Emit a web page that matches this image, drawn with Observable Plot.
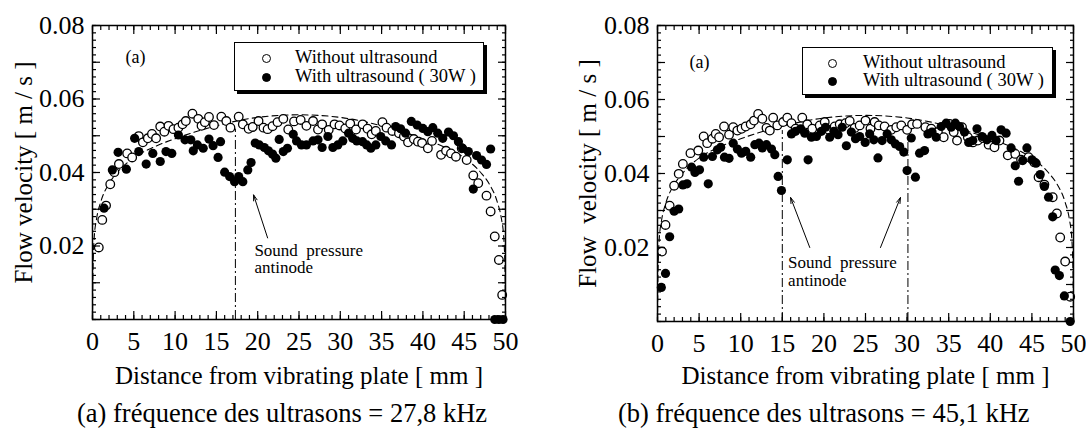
<!DOCTYPE html>
<html><head><meta charset="utf-8">
<script src="https://cdn.jsdelivr.net/npm/d3@7"></script>
<script src="https://cdn.jsdelivr.net/npm/@observablehq/plot@0.6"></script>
<style>
body{margin:0;background:#fff;}
#wrap{display:flex;width:1086px;height:435px;overflow:hidden;}
.panel{position:relative;width:543px;height:435px;flex:none;}
.panel svg text{white-space:pre;}
.caption{position:absolute;top:399px;font-family:"Liberation Serif",serif;font-size:26.5px;line-height:28px;white-space:nowrap;color:#000;}
.legend{position:absolute;border:1.5px solid #000;box-shadow:3px 3px 0 #000;background:#fff;font-family:"Liberation Serif",serif;font-size:18.5px;color:#000;box-sizing:border-box;}
.legend .row{position:absolute;white-space:pre;line-height:20px;}
.legend .sym{position:absolute;width:9px;height:9px;border-radius:50%;box-sizing:border-box;}
</style>
</head><body>
<div id="wrap"></div>
<script>
// ---------- data ----------
const xTickLabels = [0,5,10,15,20,25,30,35,40,45,50];
const yTickLabels = [0.02,0.04,0.06,0.08];
const seriesNames = ["Without ultrasound","With ultrasound ( 30W )"];

// panel (a) 27.8 kHz
const aOpenX = [0.76,1.18,1.64,2.15,2.65,3.2,4.2,4.8,5.6,6.1,6.7,7.2,7.7,8.2,8.7,9.2,9.8,10.4,10.9,11.3,12.1,12.8,13.2,13.6,14.1,14.7,15.6,16.2,16.7,17.7,18.2,18.9,19.4,20.1,20.7,21.2,21.8,22.4,23.1,23.7,24.4,25.2,25.9,26.7,27.3,27.8,28.6,29.3,29.9,30.6,31.2,31.9,32.7,33.3,33.8,34.3,35.1,35.6,36.3,37.1,37.7,38.2,38.9,39.4,39.9,40.6,41.1,42.2,42.8,43.4,44.0,44.7,45.3,46.1,46.7,47.7,48.2,48.7,49.2,49.6];
const aOpenY = [0.0196,0.0271,0.0310,0.0368,0.0401,0.0423,0.0452,0.0441,0.0499,0.0482,0.0493,0.0505,0.0493,0.0525,0.0511,0.0527,0.0518,0.0522,0.0531,0.0540,0.0560,0.0546,0.0527,0.0537,0.0551,0.0529,0.0552,0.0540,0.0522,0.0552,0.0531,0.0519,0.0524,0.0540,0.0522,0.0518,0.0526,0.0537,0.0546,0.0517,0.0539,0.0543,0.0527,0.0540,0.0517,0.0531,0.0516,0.0531,0.0528,0.0520,0.0533,0.0517,0.0531,0.0519,0.0504,0.0513,0.0537,0.0522,0.0513,0.0507,0.0498,0.0482,0.0491,0.0484,0.0480,0.0466,0.0486,0.0448,0.0459,0.0452,0.0443,0.0466,0.0434,0.0392,0.0371,0.0337,0.0294,0.0226,0.0162,0.0067];
const aFillX = [1.4,2.4,3.1,4.1,5.1,5.6,6.5,7.3,8.2,8.9,9.6,10.4,11.2,11.9,12.2,12.7,13.4,14.1,14.6,15.2,15.5,16.0,16.6,17.2,17.7,18.2,18.8,19.2,19.7,20.2,20.8,21.3,21.8,22.2,22.6,23.1,23.6,24.3,24.7,25.3,25.9,26.7,27.3,27.8,28.5,29.1,29.7,30.3,31.0,31.5,32.0,32.7,33.2,33.7,34.3,34.9,35.5,36.2,36.7,37.3,37.9,38.6,39.3,40.0,40.6,41.2,41.8,42.4,43.1,43.7,44.3,44.8,45.5,46.1,46.5,47.1,47.7,48.2,48.7,49.2,49.7];
const aFillY = [0.0303,0.0407,0.0455,0.0409,0.0493,0.0457,0.0423,0.0452,0.0430,0.0457,0.0452,0.0502,0.0489,0.0489,0.0459,0.0475,0.0466,0.0491,0.0473,0.0441,0.0484,0.0401,0.0389,0.0375,0.0389,0.0375,0.0407,0.0427,0.0480,0.0475,0.0468,0.0459,0.0450,0.0439,0.0490,0.0457,0.0466,0.0504,0.0486,0.0475,0.0475,0.0486,0.0489,0.0468,0.0498,0.0468,0.0475,0.0486,0.0507,0.0493,0.0486,0.0484,0.0475,0.0466,0.0475,0.0498,0.0486,0.0475,0.0525,0.0519,0.0507,0.0539,0.0529,0.0520,0.0511,0.0522,0.0507,0.0493,0.0510,0.0500,0.0484,0.0466,0.0457,0.0355,0.0446,0.0434,0.0422,0.0464,0.0,0.0,0.0];
const aCurveX = [0,0.05,0.2,0.5,1,2,3,5,7.5,10,15,20,25,30,35,40,42.5,45,47,48,49,49.5,49.8,49.95,50];
const aCurveY = [0,0.012,0.022,0.0275,0.032,0.037,0.040,0.0440,0.0470,0.0492,0.0527,0.0550,0.0557,0.0550,0.0527,0.0492,0.0470,0.0440,0.0400,0.0370,0.0320,0.0275,0.0220,0.0120,0];
const aAntinodes = [17.3];
const aAntinodeTop = 0.0518;
const aArrows = [{x1:21.2,y1:0.0222,x2:19.5,y2:0.0339}];
const aNoteX = 19.6;
const aNoteY = [0.0187,0.0141];

// panel (b) 45.1 kHz
const bOpenX = [0.54,0.96,1.46,2.0,2.55,3.05,3.96,4.9,5.55,5.97,6.6,7.0,7.4,8.0,8.6,9.1,9.6,10.1,10.6,11.2,11.6,12.1,12.6,13.1,13.5,13.9,14.4,15.1,15.6,16.1,16.6,17.4,18.0,18.6,19.5,20.1,20.6,21.3,21.9,22.6,23.1,23.7,24.3,25.0,25.6,26.1,26.6,27.3,28.1,28.7,29.3,30.0,30.6,31.2,32.2,32.9,33.7,34.4,35.1,35.6,36.0,36.6,37.3,37.9,38.5,39.1,39.8,40.5,41.1,42.1,43.0,43.7,44.6,45.3,45.8,46.5,47.5,48.0,48.4,49.0,49.6];
const bOpenY = [0.0189,0.0261,0.0313,0.0367,0.0399,0.0426,0.0455,0.0462,0.0500,0.0482,0.0494,0.0507,0.0498,0.0527,0.0505,0.0525,0.0516,0.0521,0.0527,0.0533,0.0543,0.0561,0.0548,0.0523,0.0516,0.0551,0.0530,0.0539,0.0551,0.0536,0.0521,0.0551,0.0533,0.0521,0.0530,0.0539,0.0518,0.0527,0.0533,0.0536,0.0542,0.0523,0.0530,0.0543,0.0521,0.0539,0.0530,0.0527,0.0518,0.0525,0.0530,0.0518,0.0533,0.0534,0.0525,0.0521,0.0512,0.0498,0.0534,0.0512,0.0489,0.0525,0.0498,0.0484,0.0489,0.0496,0.0478,0.0471,0.0489,0.0449,0.0453,0.0437,0.0444,0.0430,0.0390,0.0370,0.0336,0.0292,0.0227,0.0162,0.0067];
const bFillX = [0.46,0.96,1.46,2.0,2.55,3.05,3.55,4.1,4.5,5.05,5.55,6.1,6.6,7.2,7.6,8.05,8.6,9.1,9.6,10.1,10.6,11.2,11.7,12.2,12.6,13.1,13.7,14.1,14.5,14.9,15.6,16.1,16.6,17.2,17.7,18.1,18.5,19.1,19.7,20.2,20.7,21.2,21.7,22.2,22.7,23.3,23.8,24.3,24.96,25.5,26.0,26.5,27.0,27.6,28.1,28.6,29.1,29.6,30.0,30.5,31.0,31.5,32.1,32.5,33.0,33.5,34.1,34.7,35.3,35.8,36.3,36.9,37.4,37.9,38.4,39.0,39.6,40.2,40.7,41.3,41.9,42.5,43.0,43.4,43.9,44.4,45.0,45.5,46.0,46.5,47.0,47.5,47.8,48.3,48.9,49.6];
const bFillY = [0.0092,0.0130,0.0229,0.0298,0.0304,0.0369,0.0372,0.0417,0.0403,0.0410,0.0444,0.0372,0.0446,0.0464,0.0471,0.0444,0.0441,0.0482,0.0466,0.0455,0.0460,0.0444,0.0478,0.0482,0.0469,0.0478,0.0466,0.0451,0.0392,0.0354,0.0437,0.0507,0.0514,0.0521,0.0509,0.0437,0.0498,0.0500,0.0514,0.0525,0.0498,0.0514,0.0505,0.0525,0.0475,0.0512,0.0494,0.0500,0.0484,0.0507,0.0491,0.0442,0.0489,0.0507,0.0491,0.0480,0.0473,0.0458,0.0408,0.0496,0.0390,0.0455,0.0462,0.0507,0.0512,0.0498,0.0527,0.0536,0.0525,0.0536,0.0527,0.0512,0.0484,0.0489,0.0521,0.0500,0.0491,0.0503,0.0489,0.0518,0.0509,0.0469,0.0421,0.0379,0.0435,0.0469,0.0437,0.0428,0.0397,0.0365,0.0336,0.0283,0.0139,0.0124,0.0069,0.0];
const bCurveX = [0,0.05,0.2,0.5,1,2,3,5,7.5,10,15,20,25,30,35,40,42.5,45,47,48,49,49.5,49.8,49.95,50];
const bCurveY = [0,0.012,0.022,0.0275,0.032,0.037,0.040,0.0442,0.0472,0.0494,0.0528,0.0550,0.0557,0.0550,0.0528,0.0494,0.0472,0.0442,0.0402,0.0372,0.0322,0.0277,0.0222,0.0120,0];
const bAntinodes = [15, 30.1];
const bAntinodeTop = 0.0516;
const bArrows = [{x1:18.3,y1:0.0200,x2:16.0,y2:0.0335},{x1:26.8,y1:0.0200,x2:29.2,y2:0.0335}];
const bNoteX = 15.7;
const bNoteY = [0.0159,0.0111];

// ---------- drawing ----------
const pts = (xs, ys) => d3.zip(xs, ys).map(([x, y]) => ({x, y}));

function panel(o) {
  const ticks = [];
  for (const anchor of ["bottom", "top"]) {
    ticks.push(Plot.axisX({anchor, ticks: d3.range(0, 51, 5), tickSize: -8, fill: "none", strokeWidth: 1.2, label: null}));
    ticks.push(Plot.axisX({anchor, ticks: d3.range(0, 51, 1), tickSize: -4, fill: "none", strokeWidth: 1.2, label: null}));
  }
  for (const anchor of ["left", "right"]) {
    ticks.push(Plot.axisY({anchor, ticks: d3.range(0, 9).map(i => i / 100), tickSize: -8, fill: "none", strokeWidth: 1.2, label: null}));
    ticks.push(Plot.axisY({anchor, ticks: d3.range(0, 41).map(i => i / 500), tickSize: -4, fill: "none", strokeWidth: 1.2, label: null}));
  }
  return Plot.plot({
    width: 543, height: 390,
    marginLeft: o.ml, marginRight: o.mr, marginTop: 25, marginBottom: o.mb,
    x: {domain: [0, 50]},
    y: {domain: [0, 0.08]},
    style: {fontFamily: "'Liberation Serif', serif", fontSize: "26px", color: "#000", background: "transparent", overflow: "visible"},
    marks: [
      Plot.line(pts(o.curveX, o.curveY), {x: "x", y: "y", curve: "monotone-x", stroke: "#000", strokeWidth: 1.1, strokeDasharray: "6,4"}),
      Plot.ruleX(o.antinodes, {x: d => d, y1: 0, y2: o.antinodeTop, stroke: "#000", strokeWidth: 1, strokeDasharray: "9,3,2,3"}),
      Plot.dot(pts(o.openX, o.openY), {x: "x", y: "y", r: 4.3, fill: "#fff", stroke: "#000", strokeWidth: 1.3}),
      Plot.dot(pts(o.fillX, o.fillY), {x: "x", y: "y", r: 4.6, fill: "#000"}),
      Plot.arrow(o.arrows, {x1: "x1", y1: "y1", x2: "x2", y2: "y2", stroke: "#000", strokeWidth: 1, headLength: 9, headAngle: 35}),
      Plot.text(["Sound  pressure", "antinode"], {x: () => o.noteX, y: (d, i) => o.noteY[i], text: d => d, textAnchor: "start", lineAnchor: "middle", fontSize: 17}),
      Plot.text(["(a)"], {frameAnchor: "top-left", dx: o.tagDx, dy: o.tagDy, textAnchor: "start", lineAnchor: "middle", fontSize: 18}),
      ...ticks,
      Plot.axisX({ticks: xTickLabels, tickSize: 0, tickPadding: 12, tickFormat: d => String(d), label: null}),
      Plot.axisY({ticks: yTickLabels, tickSize: 0, tickPadding: 8, tickFormat: d => d.toFixed(2), label: null}),
      Plot.text([o.xLabel], {frameAnchor: "bottom", dy: o.xLabelDy, textAnchor: "middle", lineAnchor: "middle", fontSize: 25}),
      Plot.text([o.yLabel], {frameAnchor: "left", rotate: -90, dx: o.yLabelDx, textAnchor: "middle", lineAnchor: "middle", fontSize: 25}),
      Plot.frame({stroke: "#000", strokeWidth: 1.5})
    ]
  });
}

function legend(lo) {
  const box = document.createElement("div");
  box.className = "legend";
  Object.assign(box.style, {left: lo.left + "px", top: lo.top + "px", width: lo.w + "px", height: lo.h + "px"});
  seriesNames.forEach((name, i) => {
    const s = document.createElement("div");
    s.className = "sym";
    Object.assign(s.style, {left: (lo.symX - 4.5) + "px", top: (lo.rowY[i] - 4.5) + "px",
      background: i === 0 ? "#fff" : "#000", border: "1.3px solid #000"});
    box.appendChild(s);
    const t = document.createElement("div");
    t.className = "row";
    t.textContent = name;
    Object.assign(t.style, {left: lo.textX + "px", top: (lo.rowY[i] - 11) + "px"});
    box.appendChild(t);
  });
  return box;
}

const wrap = document.getElementById("wrap");
const configs = [
  {openX: aOpenX, openY: aOpenY, fillX: aFillX, fillY: aFillY, curveX: aCurveX, curveY: aCurveY,
   antinodes: aAntinodes, antinodeTop: aAntinodeTop, arrows: aArrows, noteX: aNoteX, noteY: aNoteY,
   ml: 92, mr: 38, mb: 71, tagDx: 33, tagDy: 32, xLabelDy: 56, yLabelDx: -69,
   xLabel: "Distance from vibrating plate [ mm ]", yLabel: "Flow velocity [ m / s ]",
   caption: "(a) fréquence des ultrasons = 27,8 kHz", capLeft: 77,
   leg: {left: 234, top: 42, w: 250, h: 49, symX: 31, rowY: [15, 34], textX: 60}},
  {openX: bOpenX, openY: bOpenY, fillX: bFillX, fillY: bFillY, curveX: bCurveX, curveY: bCurveY,
   antinodes: bAntinodes, antinodeTop: bAntinodeTop, arrows: bArrows, noteX: bNoteX, noteY: bNoteY,
   ml: 114, mr: 13, mb: 69, tagDx: 32, tagDy: 37, xLabelDy: 54, yLabelDx: -70,
   xLabel: "Distance from vibrating plate [ mm ]", yLabel: "Flow  velocity [ m / s ]",
   caption: "(b) fréquence des ultrasons = 45,1 kHz", capLeft: 75,
   leg: {left: 259, top: 47, w: 251, h: 48, symX: 29, rowY: [15, 33], textX: 60}}
];
for (const c of configs) {
  const p = document.createElement("div");
  p.className = "panel";
  p.appendChild(panel(c));
  p.appendChild(legend(c.leg));
  const cap = document.createElement("div");
  cap.className = "caption";
  cap.style.left = c.capLeft + "px";
  cap.textContent = c.caption;
  p.appendChild(cap);
  wrap.appendChild(p);
}
</script>
</body></html>
